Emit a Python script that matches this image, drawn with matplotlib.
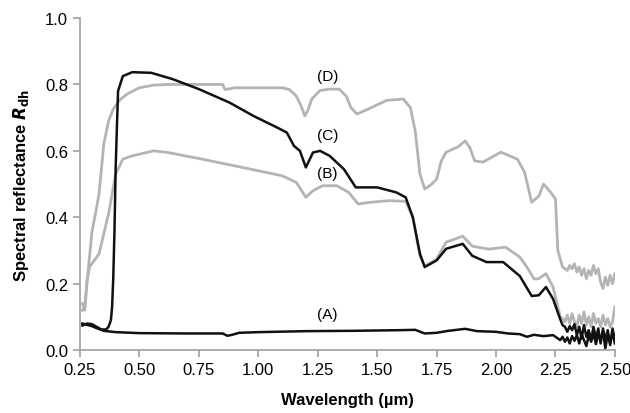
import matplotlib.pyplot as plt

plt.rcParams['font.family'] = ['Liberation Sans', 'DejaVu Sans']

# wavelength (um) / reflectance
wl_a = [0.26, 0.28, 0.30, 0.32, 0.35, 0.40, 0.50, 0.70, 0.85, 0.87, 0.89, 0.92, 1.00, 1.20,
        1.40, 1.60, 1.66, 1.70, 1.75, 1.80, 1.87, 1.92, 2.00, 2.05, 2.10, 2.13, 2.16, 2.20,
        2.24, 2.26, 2.27, 2.28, 2.29, 2.30, 2.31, 2.32, 2.33, 2.34, 2.35, 2.36, 2.37, 2.38,
        2.39, 2.40, 2.41, 2.42, 2.43, 2.44, 2.45, 2.46, 2.47, 2.48, 2.49, 2.50]
refl_a = [0.080, 0.076, 0.072, 0.066, 0.058, 0.054, 0.051, 0.050, 0.050, 0.043, 0.046, 0.052,
          0.054, 0.057, 0.058, 0.060, 0.061, 0.050, 0.052, 0.058, 0.064, 0.057, 0.055, 0.050,
          0.048, 0.040, 0.046, 0.042, 0.045, 0.035, 0.030, 0.040, 0.025, 0.038, 0.020, 0.042,
          0.028, 0.045, 0.020, 0.048, 0.030, 0.012, 0.045, 0.025, 0.050, 0.018, 0.045, 0.030,
          0.055, 0.005, 0.048, 0.020, 0.052, 0.020]

wl_b = [0.26, 0.27, 0.28, 0.29, 0.31, 0.33, 0.35, 0.37, 0.38, 0.40, 0.43, 0.47, 0.50, 0.56,
        0.62, 0.75, 0.90, 1.00, 1.10, 1.16, 1.20, 1.23, 1.27, 1.33, 1.38, 1.42, 1.47, 1.55,
        1.62, 1.65, 1.68, 1.70, 1.73, 1.75, 1.79, 1.86, 1.90, 1.97, 2.04, 2.10, 2.13, 2.16,
        2.18, 2.21, 2.24, 2.26, 2.27, 2.28, 2.29, 2.30, 2.31, 2.32, 2.33, 2.34, 2.35, 2.36,
        2.37, 2.38, 2.39, 2.40, 2.41, 2.42, 2.43, 2.44, 2.45, 2.46, 2.47, 2.48, 2.49, 2.50]
refl_b = [0.14, 0.12, 0.21, 0.25, 0.27, 0.29, 0.35, 0.41, 0.45, 0.53, 0.575, 0.585, 0.59,
          0.60, 0.595, 0.577, 0.555, 0.54, 0.525, 0.505, 0.46, 0.48, 0.495, 0.495, 0.475,
          0.44, 0.445, 0.45, 0.448, 0.40, 0.283, 0.253, 0.265, 0.274, 0.325, 0.343, 0.313,
          0.304, 0.31, 0.28, 0.25, 0.214, 0.215, 0.23, 0.19, 0.13, 0.10, 0.095, 0.085, 0.105,
          0.08, 0.11, 0.085, 0.07, 0.105, 0.08, 0.115, 0.075, 0.10, 0.07, 0.11, 0.08, 0.095,
          0.07, 0.105, 0.075, 0.095, 0.07, 0.085, 0.13]

wl_c = [0.26, 0.28, 0.30, 0.32, 0.34, 0.36, 0.37, 0.38, 0.385, 0.39, 0.395, 0.40, 0.41,
        0.43, 0.47, 0.55, 0.64, 0.75, 0.88, 0.98, 1.08, 1.12, 1.15, 1.175, 1.20, 1.23, 1.26,
        1.30, 1.36, 1.41, 1.50, 1.58, 1.62, 1.65, 1.68, 1.70, 1.75, 1.79, 1.86, 1.90, 1.96,
        2.03, 2.10, 2.15, 2.18, 2.21, 2.24, 2.27, 2.28, 2.29, 2.30, 2.31, 2.32, 2.33, 2.34,
        2.35, 2.36, 2.37, 2.38, 2.39, 2.40, 2.41, 2.42, 2.43, 2.44, 2.45, 2.46, 2.47, 2.48,
        2.49, 2.50]
refl_c = [0.074, 0.080, 0.078, 0.070, 0.062, 0.062, 0.070, 0.090, 0.13, 0.22, 0.36, 0.55,
          0.78, 0.825, 0.837, 0.835, 0.816, 0.786, 0.745, 0.705, 0.67, 0.655, 0.615, 0.60,
          0.55, 0.595, 0.60, 0.585, 0.545, 0.49, 0.49, 0.475, 0.46, 0.40, 0.29, 0.25, 0.27,
          0.305, 0.32, 0.284, 0.265, 0.265, 0.223, 0.163, 0.165, 0.19, 0.154, 0.093, 0.075,
          0.07, 0.055, 0.072, 0.06, 0.078, 0.045, 0.07, 0.035, 0.075, 0.04, 0.06, 0.03, 0.07,
          0.035, 0.065, 0.02, 0.065, 0.03, 0.06, 0.015, 0.065, 0.03]

wl_d = [0.26, 0.27, 0.28, 0.29, 0.30, 0.32, 0.33, 0.35, 0.37, 0.39, 0.42, 0.45, 0.50, 0.56,
        0.62, 0.85, 0.86, 0.88, 0.90, 1.00, 1.10, 1.13, 1.16, 1.18, 1.196, 1.21, 1.225,
        1.26, 1.30, 1.34, 1.37, 1.39, 1.415, 1.46, 1.54, 1.61, 1.64, 1.66, 1.68, 1.70, 1.73,
        1.75, 1.77, 1.79, 1.84, 1.87, 1.89, 1.91, 1.945, 2.02, 2.09, 2.12, 2.15, 2.18, 2.20,
        2.23, 2.25, 2.26, 2.28, 2.30, 2.31, 2.32, 2.33, 2.34, 2.35, 2.36, 2.37, 2.38, 2.39,
        2.40, 2.41, 2.42, 2.43, 2.44, 2.45, 2.46, 2.47, 2.48, 2.49, 2.50]
refl_d = [0.12, 0.13, 0.21, 0.28, 0.355, 0.43, 0.47, 0.62, 0.69, 0.726, 0.755, 0.772, 0.79,
          0.798, 0.80, 0.80, 0.785, 0.787, 0.79, 0.79, 0.79, 0.785, 0.765, 0.735, 0.705,
          0.725, 0.756, 0.782, 0.786, 0.786, 0.765, 0.73, 0.711, 0.725, 0.752, 0.756, 0.73,
          0.66, 0.53, 0.485, 0.50, 0.515, 0.57, 0.596, 0.612, 0.63, 0.61, 0.57, 0.566, 0.596,
          0.575, 0.536, 0.445, 0.464, 0.50, 0.475, 0.455, 0.30, 0.25, 0.24, 0.255, 0.245,
          0.26, 0.235, 0.25, 0.225, 0.245, 0.215, 0.24, 0.225, 0.255, 0.23, 0.245, 0.205,
          0.185, 0.22, 0.195, 0.225, 0.20, 0.23]

labels = ['(A)', '(B)', '(C)', '(D)']
label_x = [1.29, 1.29, 1.29, 1.29]
label_y = [0.108, 0.533, 0.647, 0.826]

grey = '#b4b4b4'
fig, ax = plt.subplots(figsize=(6.3, 4.14), dpi=100)
fig.subplots_adjust(left=0.127, right=0.976, bottom=0.152, top=0.954)

ax.plot(wl_d, refl_d, color=grey, lw=2.0)
ax.plot(wl_b, refl_b, color=grey, lw=2.0)
ax.plot(wl_a, refl_a, color='#111111', lw=1.8)
ax.plot(wl_c, refl_c, color='#111111', lw=1.8)

for t, lx, ly in zip(labels, label_x, label_y):
    ax.text(lx, ly, t, ha='center', va='center', fontsize=11)

ax.set_xlim(0.25, 2.5)
ax.set_ylim(0, 1.0)
ax.set_xticks([0.25, 0.5, 0.75, 1.0, 1.25, 1.5, 1.75, 2.0, 2.25, 2.5])
ax.set_xticklabels(['0.25', '0.50', '0.75', '1.00', '1.25', '1.50', '1.75', '2.00', '2.25', '2.50'])
ax.set_yticks([0, 0.2, 0.4, 0.6, 0.8, 1.0])
ax.set_yticklabels(['0.0', '0.2', '0.4', '0.6', '0.8', '1.0'])
ax.tick_params(labelsize=12, color='#a0a0a0', length=5, width=1.2)
for s in ['top', 'right']:
    ax.spines[s].set_visible(False)
for s in ['left', 'bottom']:
    ax.spines[s].set_color('#a0a0a0')
    ax.spines[s].set_linewidth(1.2)

ax.set_xlabel('Wavelength (µm)', fontsize=12, fontweight='bold', labelpad=11)
ax.set_ylabel(r'Spectral reflectance $\boldsymbol{R}_{\mathbf{dh}}$', fontsize=12,
              fontweight='bold', labelpad=10)

plt.savefig('out.png')
